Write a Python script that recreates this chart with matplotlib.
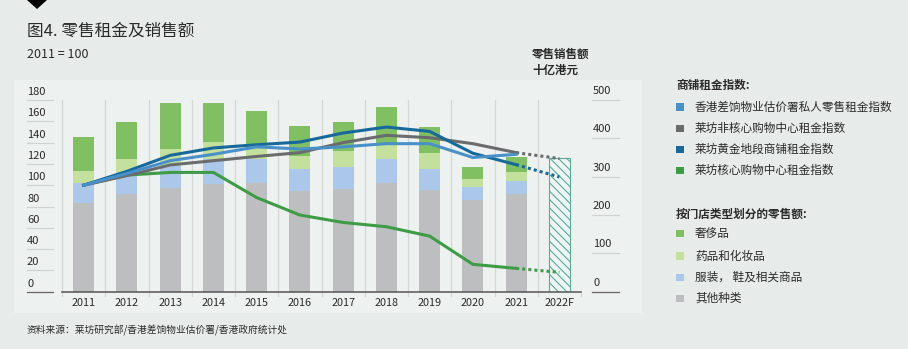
import numpy as np
import matplotlib
matplotlib.use('Agg')
import matplotlib.pyplot as plt
from matplotlib import transforms
from matplotlib.patches import Rectangle, Polygon
from matplotlib.lines import Line2D

plt.rcParams['font.family'] = ['Noto Sans CJK SC', 'DejaVu Sans']
plt.rcParams['hatch.linewidth'] = 0.8

# ---------------- data ----------------
years = ['2011', '2012', '2013', '2014', '2015', '2016', '2017', '2018', '2019', '2020', '2021', '2022F']

# retail sales by outlet type (HK$ bn), 2011-2021
other    = [231, 254, 271, 281, 284, 262, 267, 284, 264, 240, 254]
clothing = [53, 49, 58, 66, 63, 59, 58, 63, 55, 33, 36]
drugs    = [30, 44, 44, 43, 39, 34, 43, 38, 43, 22, 22]
luxury   = [89, 95, 118, 101, 86, 78, 74, 98, 67, 30, 39]
forecast_total = 349  # 2022F

# rent indices (2011 = 100)
rvd     = [100, 111, 123, 129, 136, 134, 136, 139, 139, 126, 129]
noncore = [100, 109, 119, 123, 127, 130.6, 140, 146.8, 144.6, 139, 130.6]
prime   = [100, 113, 128, 135, 138, 140.5, 149, 154.6, 150.5, 130, 119.3]
core    = [100, 109.5, 112, 112, 88.4, 72, 65, 61, 52.2, 25.7, 21.9]
noncore_f = 125
prime_f = 107.7
core_f = 18.2

left_ticks = [0, 20, 40, 60, 80, 100, 120, 140, 160, 180]
right_ticks = [0, 100, 200, 300, 400, 500]

rent_labels = ['香港差饷物业估价署私人零售租金指数', '莱坊非核心购物中心租金指数',
               '莱坊黄金地段商铺租金指数', '莱坊核心购物中心租金指数']
sales_labels = ['奢侈品', '药品和化妆品', '服装， 鞋及相关商品', '其他种类']

# ---------------- style ----------------
BG = '#e7ecea'
PANEL = '#edf1ef'
C_RVD = '#4a90c8'
C_NONCORE = '#6a6b6d'
C_PRIME = '#17699b'
C_CORE = '#3e9b46'
C_LUX = '#80c062'
C_DRUG = '#c3e09c'
C_CLOTH = '#abc7e9'
C_OTHER = '#bdbebf'
C_HATCH = '#5aab9b'
GRID = '#d3d8d6'
TXT = '#2a2a2a'

W, H = 908, 349
fig = plt.figure(figsize=(W / 100, H / 100), dpi=100, facecolor=BG)

def fx(px):
    return px / W

def fy(py):
    return 1 - py / H

# lighter panel behind chart
fig.add_artist(Rectangle((fx(14), fy(313)), fx(642) - fx(14), fy(80) - fy(313),
                         transform=fig.transFigure, facecolor=PANEL, edgecolor='none', zorder=0))
# black triangle marker at top
fig.add_artist(Polygon([[fx(27), fy(0)], [fx(47), fy(0)], [fx(37), fy(9)]], closed=True,
                       transform=fig.transFigure, facecolor='black', edgecolor='none'))

ax = fig.add_axes([fx(62), fy(291.7), fx(581) - fx(62), fy(100) - fy(291.7)])
ax.patch.set_visible(False)
for s in ax.spines.values():
    s.set_visible(False)
ax.set_xlim(-0.5, 11.5)
ax.set_ylim(0, 500)

x = np.arange(len(years))
xa = x[:11]
bw = 0.48

# vertical grid lines at category boundaries
for b in np.arange(-0.5, 11.0, 1.0):
    ax.axvline(b, ymin=-0.025, ymax=1.0, color=GRID, lw=0.9, clip_on=False, zorder=0.5)
ax.axvline(11.5, ymin=-0.025, ymax=0.0, color=GRID, lw=0.9, clip_on=False, zorder=0.5)

# stacked bars
bottom = np.zeros(11)
for vals, col in [(other, C_OTHER), (clothing, C_CLOTH), (drugs, C_DRUG), (luxury, C_LUX)]:
    ax.bar(xa, vals, bw, bottom=bottom, color=col, edgecolor='none', zorder=2)
    bottom = bottom + np.array(vals)
ax.bar([x[11]], [forecast_total], bw, color='#eef5f2', edgecolor=C_HATCH,
       hatch='\\\\\\\\', lw=0.8, zorder=2)

ax.axhline(0, color='#555555', lw=1.1, zorder=3, clip_on=False)

ax.set_xticks(x)
ax.set_xticklabels(years, fontsize=7.8, color=TXT)
ax.tick_params(axis='x', length=0, pad=4.5)
ax.set_yticks([])

# rent index lines
ax2 = ax.twinx()
ax2.patch.set_visible(False)
for s in ax2.spines.values():
    s.set_visible(False)
ax2.set_ylim(0, 180)
ax2.set_yticks([])
ax2.set_xlim(-0.5, 11.5)

lw = 2.2
ax2.plot(xa, core, color=C_CORE, lw=lw, solid_joinstyle='round', zorder=3)
ax2.plot([10, 11], [core[-1], core_f], color=C_CORE, lw=lw, ls=(0, (1, 1)), zorder=3)
ax2.plot(xa, noncore, color=C_NONCORE, lw=lw, solid_joinstyle='round', zorder=3)
ax2.plot([10, 11], [noncore[-1], noncore_f], color=C_NONCORE, lw=lw, ls=(0, (1, 1)), zorder=3)
ax2.plot(xa, prime, color=C_PRIME, lw=lw, solid_joinstyle='round', zorder=3)
ax2.plot([10, 11], [prime[-1], prime_f], color=C_PRIME, lw=lw, ls=(0, (1, 1)), zorder=3)
ax2.plot(xa, rvd, color=C_RVD, lw=lw, solid_joinstyle='round', zorder=4)

# custom tick labels (sitting above short lines)
tl = transforms.blended_transform_factory(fig.transFigure, ax2.transData)
tl_txt = transforms.offset_copy(tl, fig=fig, y=3, units='dots')
for v in left_ticks:
    fig.add_artist(Line2D([fx(27), fx(53)], [v, v], transform=tl,
                          color='#666666' if v == 0 else '#cfd4d2', lw=0.9))
    fig.text(fx(27), v, str(v), transform=tl_txt, ha='left', va='bottom',
             fontsize=8, color=TXT)

tr = transforms.blended_transform_factory(fig.transFigure, ax.transData)
tr_txt = transforms.offset_copy(tr, fig=fig, y=4, units='dots')
for v in right_ticks:
    fig.add_artist(Line2D([fx(592), fx(619)], [v, v], transform=tr,
                          color='#666666' if v == 0 else '#cfd4d2', lw=0.9))
    fig.text(fx(593), v, str(v), transform=tr_txt, ha='left', va='bottom',
             fontsize=8, color=TXT)

# titles
fig.text(fx(27), fy(31), '图4. 零售租金及销售额', fontsize=12, color=TXT, ha='left', va='center')
fig.text(fx(27), fy(54), '2011 = 100', fontsize=9, color=TXT, ha='left', va='center')
fig.text(fx(532), fy(54), '零售销售额', fontsize=8.3, fontweight='bold', color=TXT, ha='left', va='center')
fig.text(fx(532), fy(70), '十亿港元', fontsize=8.3, fontweight='bold', color=TXT, ha='left', va='center')

# legend
fig.text(fx(676), fy(86), '商铺租金指数:', fontsize=8.4, fontweight='bold', color=TXT, ha='left', va='center')
for lab, col, yy in zip(rent_labels, [C_RVD, C_NONCORE, C_PRIME, C_CORE], [107, 128.3, 149.3, 170.3]):
    fig.add_artist(Rectangle((fx(676), fy(yy + 3.7)), fx(7.5), 7.5 / H,
                             transform=fig.transFigure, facecolor=col, edgecolor='none'))
    fig.text(fx(695), fy(yy), lab, fontsize=8.4, color=TXT, ha='left', va='center')

fig.text(fx(676), fy(214.3), '按门店类型划分的零售额:', fontsize=8.4, fontweight='bold', color=TXT, ha='left', va='center')
for lab, col, yy in zip(sales_labels, [C_LUX, C_DRUG, C_CLOTH, C_OTHER], [233.5, 256, 277.5, 298.5]):
    fig.add_artist(Rectangle((fx(676), fy(yy + 3.7)), fx(7.5), 7.5 / H,
                             transform=fig.transFigure, facecolor=col, edgecolor='none'))
    fig.text(fx(695), fy(yy), lab, fontsize=8.4, color=TXT, ha='left', va='center')

fig.text(fx(27), fy(330), '资料来源：莱坊研究部/香港差饷物业估价署/香港政府统计处', fontsize=7,
         color=TXT, ha='left', va='center')

fig.savefig('out.png', dpi=100, facecolor=BG)
